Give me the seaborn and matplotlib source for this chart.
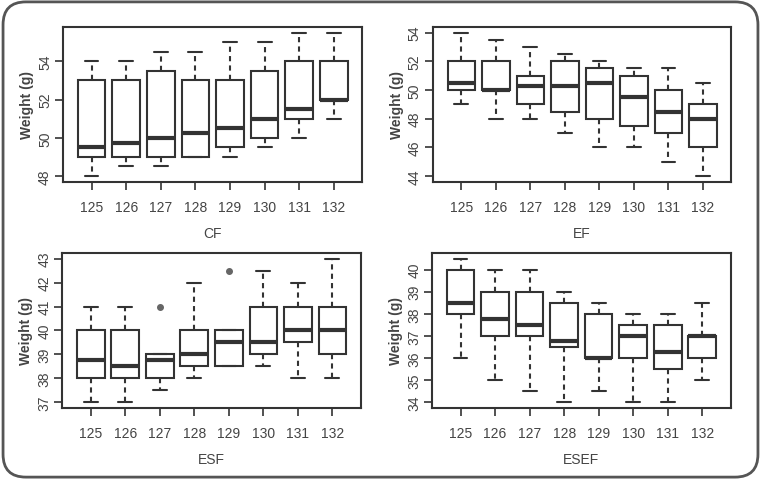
import matplotlib.pyplot as plt
import pandas as pd
import seaborn as sns
from matplotlib.patches import FancyBboxPatch

sns.set_theme(style='ticks')
plt.rcParams['font.family'] = ['Liberation Sans', 'DejaVu Sans']

# --- values ---
days = ['125', '126', '127', '128', '129', '130', '131', '132']

# five values per day: lower whisker, Q1, median, Q3, upper whisker (or outlier)
cf_values = [
    [48.0, 49.0, 49.5, 53.0, 54.0],
    [48.5, 49.0, 49.75, 53.0, 54.0],
    [48.5, 49.0, 50.0, 53.5, 54.5],
    [49.0, 49.0, 50.25, 53.0, 54.5],
    [49.0, 49.5, 50.5, 53.0, 55.0],
    [49.5, 50.0, 51.0, 53.5, 55.0],
    [50.0, 51.0, 51.5, 54.0, 55.5],
    [51.0, 52.0, 52.0, 54.0, 55.5],
]
ef_values = [
    [49.0, 50.0, 50.5, 52.0, 54.0],
    [48.0, 50.0, 50.0, 52.0, 53.5],
    [48.0, 49.0, 50.25, 51.0, 53.0],
    [47.0, 48.5, 50.25, 52.0, 52.5],
    [46.0, 48.0, 50.5, 51.5, 52.0],
    [46.0, 47.5, 49.5, 51.0, 51.5],
    [45.0, 47.0, 48.5, 50.0, 51.5],
    [44.0, 46.0, 48.0, 49.0, 50.5],
]
esf_values = [
    [37.0, 38.0, 38.75, 40.0, 41.0],
    [37.0, 38.0, 38.5, 40.0, 41.0],
    [37.5, 38.0, 38.75, 39.0, 41.0],   # 41 is an outlier
    [38.0, 38.5, 39.0, 40.0, 42.0],
    [38.5, 38.5, 39.5, 40.0, 42.5],    # 42.5 is an outlier
    [38.5, 39.0, 39.5, 41.0, 42.5],
    [38.0, 39.5, 40.0, 41.0, 42.0],
    [38.0, 39.0, 40.0, 41.0, 43.0],
]
esef_values = [
    [36.0, 38.0, 38.5, 40.0, 40.5],
    [35.0, 37.0, 37.75, 39.0, 40.0],
    [34.5, 37.0, 37.5, 39.0, 40.0],
    [34.0, 36.5, 36.75, 38.5, 39.0],
    [34.5, 36.0, 36.0, 38.0, 38.5],
    [34.0, 36.0, 37.0, 37.5, 38.0],
    [34.0, 35.5, 36.25, 37.5, 38.0],
    [35.0, 36.0, 37.0, 37.0, 38.5],
]

cf_ticks = [48, 50, 52, 54]
ef_ticks = [44, 46, 48, 50, 52, 54]
esf_ticks = [37, 38, 39, 40, 41, 42, 43]
esef_ticks = [34, 35, 36, 37, 38, 39, 40]

panels = [
    ('CF', cf_values, cf_ticks, [0.083, 0.620, 0.393, 0.322]),
    ('EF', ef_values, ef_ticks, [0.569, 0.620, 0.392, 0.322]),
    ('ESF', esf_values, esf_ticks, [0.082, 0.150, 0.392, 0.322]),
    ('ESEF', esef_values, esef_ticks, [0.568, 0.150, 0.392, 0.322]),
]

line_col = '#333333'
text_col = '#444444'

fig = plt.figure(figsize=(7.61, 4.81), dpi=100)

# rounded frame around the whole figure
frame = FancyBboxPatch((0.004, 0.006), 0.992, 0.988, boxstyle='round,pad=0,rounding_size=0.03',
                       transform=fig.transFigure, fill=False, edgecolor='#555555', linewidth=2,
                       mutation_aspect=761 / 481)
fig.patches.append(frame)

for name, values, ticks, pos in panels:
    ax = fig.add_axes(pos)
    df = pd.DataFrame({
        'day': [d for d, v in zip(days, values) for _ in v],
        'weight': [x for v in values for x in v],
    })
    sns.boxplot(data=df, x='day', y='weight', order=days, ax=ax, width=0.8,
                color='white', linecolor=line_col, linewidth=1.5,
                medianprops=dict(linewidth=3, color=line_col),
                whiskerprops=dict(linestyle=(0, (2.5, 2)), color=line_col),
                capprops=dict(color=line_col),
                flierprops=dict(marker='o', markersize=4, markerfacecolor='#666666',
                                markeredgecolor='#666666'))
    lo = min(min(v) for v in values)
    hi = max(max(v) for v in values)
    pad = 0.04 * (hi - lo)
    ax.set_ylim(lo - pad, hi + pad)
    ax.set_xlim(-0.82, 7.82)
    ax.set_yticks(ticks)
    ax.set_yticklabels([str(t) for t in ticks], rotation=90, va='center')
    ax.tick_params(axis='x', length=6, width=1.2, color=line_col, pad=7,
                   labelsize=10, labelcolor=text_col)
    ax.tick_params(axis='y', length=6, width=1.2, color=line_col, pad=2,
                   labelsize=10, labelcolor=text_col)
    for sp in ax.spines.values():
        sp.set_visible(True)
        sp.set_color(line_col)
        sp.set_linewidth(1.5)
    ax.set_xlabel(name, fontsize=10, color=text_col, labelpad=9)
    ax.set_ylabel('Weight (g)', fontsize=10, fontweight='bold', color=text_col, labelpad=3)

plt.savefig('out.png', dpi=100)
